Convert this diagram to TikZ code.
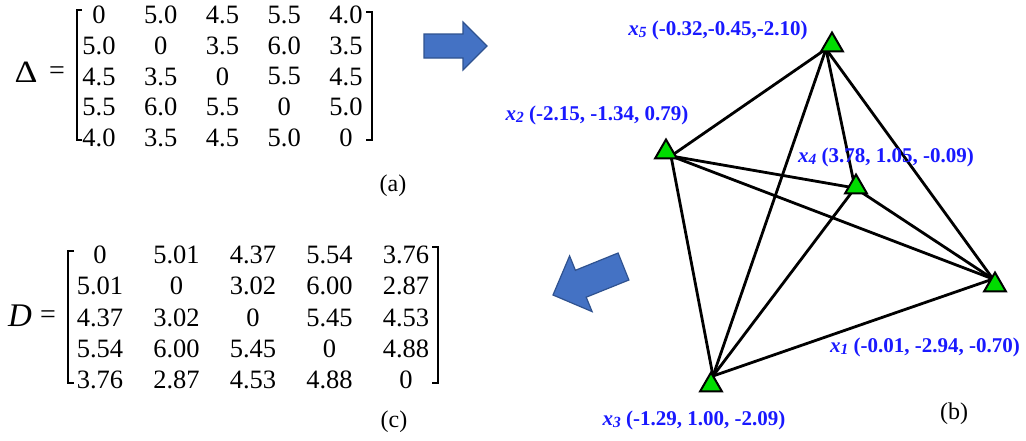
\documentclass[tikz,border=0pt]{standalone}
\usepackage{fontspec}
\setmainfont{Liberation Serif}
\usetikzlibrary{shapes.geometric}
\definecolor{vgreen}{RGB}{0,220,0}
\definecolor{lblue}{RGB}{25,25,255}
\definecolor{arrfill}{RGB}{68,114,196}
\definecolor{arrdraw}{RGB}{47,82,143}
\newcommand{\xs}[1]{\textit{x}\raisebox{-0.22ex}{\fontsize{15.5}{15.5}\selectfont\textit{#1}}}
\begin{document}
\begin{tikzpicture}[x=1pt,y=-1pt,
  ent/.style={inner sep=0pt, font=\fontsize{26.5}{26.5}\selectfont},
  vlabel/.style={inner sep=0pt, text=lblue, font=\fontsize{21}{21}\selectfont\bfseries},
  marker/.style={regular polygon, regular polygon sides=3, fill=vgreen, draw=black, line width=2pt, minimum size=25pt, inner sep=0pt},
  edge/.style={line width=2.8pt, black, line cap=round},
  bigarrow/.style={fill=arrfill, draw=arrdraw, line width=1.2pt, line join=miter},
  brk/.style={line width=1.6pt},
  sublabel/.style={inner sep=0pt, font=\fontsize{24}{24}\selectfont}
]
\useasboundingbox[fill=white] (0,0) rectangle (1026,440);

% ---------- matrix (a) ----------
\node[inner sep=0pt, font=\fontsize{31}{31}\selectfont] (delta) at (26,72) {\scalebox{1.15}[1]{Δ}};
\node[inner sep=0pt, font=\fontsize{28}{28}\selectfont] (eqa) at (57,73) {=};
\foreach \row [count=\i] in {{0,5.0,4.5,5.5,4.0},{5.0,0,3.5,6.0,3.5},{4.5,3.5,0,5.5,4.5},{5.5,6.0,5.5,0,5.0},{4.0,3.5,4.5,5.0,0}}{
  \foreach \v [count=\j] in \row {
    \node[ent] (a\i\j) at ({99+61.75*(\j-1)},{15+30.75*(\i-1)}) {\v};
  }
}
\draw[brk] (82,10) -- (77,10) -- (77,140) -- (82,140);
\draw[brk] (366,12) -- (372,12) -- (372,140) -- (366,140);
\node[sublabel] (laba) at (393,186) {(a)};

% ---------- matrix (c) ----------
\node[inner sep=0pt, font=\fontsize{33}{33}\selectfont\itshape] (dlet) at (20,316) {D};
\node[inner sep=0pt, font=\fontsize{28}{28}\selectfont] (eqc) at (48,317) {=};
\foreach \row [count=\i] in {{0,5.01,4.37,5.54,3.76},{5.01,0,3.02,6.00,2.87},{4.37,3.02,0,5.45,4.53},{5.54,6.00,5.45,0,4.88},{3.76,2.87,4.53,4.88,0}}{
  \foreach \v [count=\j] in \row {
    \node[ent] (c\i\j) at ({100+76.5*(\j-1)},{255+31.25*(\i-1)}) {\v};
  }
}
\draw[brk] (74,251) -- (68,251) -- (68,383) -- (74,383);
\draw[brk] (432,247) -- (438,247) -- (438,383) -- (432,383);
\node[sublabel] (labc) at (394,422) {(c)};

% ---------- block arrows ----------
\filldraw[bigarrow] (487,46) -- (463,22) -- (463,34) -- (424,34) -- (424,58) -- (463,58) -- (463,70) -- cycle;
\filldraw[bigarrow] (553,295) -- (592.1,311.6) -- (586.2,297.2) -- (628.9,280) -- (618.1,253) -- (575.4,270.3) -- (569.6,255.9) -- cycle;

% ---------- graph (b) ----------
\coordinate (v1) at (993,279);
\coordinate (v2) at (671,156);
\coordinate (v3) at (713,376);
\coordinate (v4) at (855,188);
\coordinate (v5) at (826,49);
\foreach \a/\b in {v5/v2,v5/v3,v5/v4,v5/v1,v2/v4,v2/v1,v2/v3,v4/v3,v4/v1,v3/v1}{
  \draw[edge] (\a) -- (\b);
}
\node[marker] (m1) at (995,285) {};
\node[marker] (m2) at (666,152) {};
\node[marker] (m3) at (711,385) {};
\node[marker] (m4) at (856,187) {};
\node[marker] (m5) at (832,45) {};

\node[vlabel] (l5) at (718,30) {\xs{5} (-0.32,-0.45,-2.10)};
\node[vlabel] (l2) at (597,115) {\xs{2} (-2.15, -1.34, 0.79)};
\node[vlabel] (l4) at (886,157) {\xs{4} (3.78, 1.05, -0.09)};
\node[vlabel] (l1) at (925,347) {\xs{1} (-0.01, -2.94, -0.70)};
\node[vlabel] (l3) at (694,420) {\xs{3} (-1.29, 1.00, -2.09)};
\node[sublabel] (labb) at (954,414) {(b)};
\end{tikzpicture}
\end{document}
